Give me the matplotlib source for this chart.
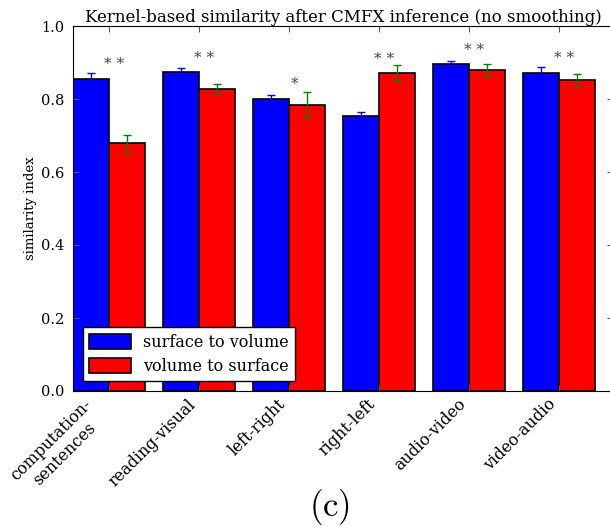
import matplotlib
matplotlib.use('Agg')
import matplotlib.pyplot as plt
import numpy as np

plt.rcParams['mathtext.fontset'] = 'cm'
plt.rcParams['font.family'] = 'DejaVu Serif'

categories = ['computation-\nsentences', 'reading-visual', 'left-right',
              'right-left', 'audio-video', 'video-audio']
surf_to_vol = [0.855, 0.874, 0.801, 0.754, 0.895, 0.871]
surf_to_vol_err = [0.017, 0.010, 0.009, 0.011, 0.010, 0.018]
vol_to_surf = [0.679, 0.827, 0.784, 0.871, 0.879, 0.852]
vol_to_surf_err = [0.023, 0.013, 0.034, 0.021, 0.016, 0.017]
stars = ['* *', '* *', '*', '* *', '* *', '* *']
star_y = [0.895, 0.913, 0.842, 0.910, 0.935, 0.913]

width = 0.4
ind = np.arange(len(categories))

fig = plt.figure(figsize=(6.10, 5.31), dpi=100)
ax = fig.add_axes([73 / 610, 140 / 531, 540 / 610, 365 / 531])

ax.bar(ind - width, surf_to_vol, width, align='edge', color='blue',
       edgecolor='black', linewidth=1.2, yerr=surf_to_vol_err,
       error_kw=dict(ecolor='blue', capsize=3, elinewidth=1, capthick=1),
       label='surface to volume')
ax.bar(ind, vol_to_surf, width, align='edge', color='red',
       edgecolor='black', linewidth=1.2, yerr=vol_to_surf_err,
       error_kw=dict(ecolor='green', capsize=3, elinewidth=1, capthick=1),
       label='volume to surface')

for i, s in enumerate(stars):
    ax.text(ind[i] + 0.06, star_y[i], s, ha='center', va='center',
            fontsize=11, color='#444444')

ax.set_xlim(-width, len(categories) - 1 + 0.6)
ax.set_ylim(0, 1.0)
ax.set_yticks(np.arange(0, 1.01, 0.2))
ax.set_yticklabels(['%.1f' % v for v in np.arange(0, 1.01, 0.2)], fontsize=10.5)
ax.set_xticks(ind)
ax.set_xticklabels(categories, rotation=45, ha='right',
                   fontsize=11.5, multialignment='center')
ax.tick_params(direction='in', top=True, right=True, length=4, color='#555555')
ax.tick_params(axis='y', pad=6)
ax.set_ylabel('similarity index', fontsize=9.5, labelpad=3)
ax.set_title('Kernel-based similarity after CMFX inference (no smoothing)',
             fontsize=12, pad=3)

leg = ax.legend(loc='lower left', fontsize=11.5, fancybox=False, framealpha=1,
                handlelength=2.6, handleheight=1.0, borderaxespad=0.6,
                labelspacing=0.45)
leg.get_frame().set_edgecolor('black')

fig.text(330 / 610, 1 - 507 / 531, r'$\mathrm{(c)}$', fontsize=25,
         ha='center', va='center')

fig.savefig('out.png', dpi=100)
